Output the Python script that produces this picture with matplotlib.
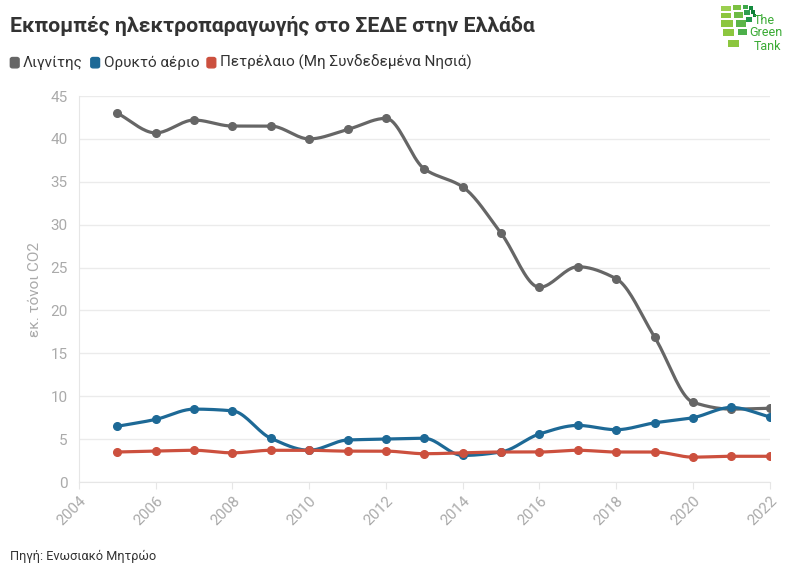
import numpy as np
import matplotlib.pyplot as plt
from matplotlib.patches import FancyBboxPatch, Rectangle

plt.rcParams['font.family'] = ['Roboto', 'DejaVu Sans']

years = list(range(2005, 2023))
lignite = [43.0, 40.7, 42.2, 41.5, 41.5, 40.0, 41.1, 42.4, 36.5, 34.4,
           29.0, 22.7, 25.1, 23.7, 16.9, 9.3, 8.5, 8.6]
gas = [6.5, 7.3, 8.5, 8.3, 5.1, 3.7, 4.9, 5.0, 5.1, 3.1,
       3.5, 5.6, 6.6, 6.1, 6.9, 7.5, 8.7, 7.6]
oil = [3.5, 3.6, 3.7, 3.4, 3.7, 3.7, 3.6, 3.6, 3.3, 3.4,
       3.5, 3.5, 3.7, 3.5, 3.5, 2.9, 3.0, 3.0]

names = ['Λιγνίτης', 'Ορυκτό αέριο', 'Πετρέλαιο (Μη Συνδεδεμένα Νησιά)']
colors = ['#666666', '#1d6996', '#cc503e']
xticks = list(range(2004, 2023, 2))
yticks = list(range(0, 50, 5))


def monotone(x, y, n=20):
    # monotone cubic (Fritsch-Carlson) only for drawing the smooth line
    x = np.asarray(x, float)
    y = np.asarray(y, float)
    h = np.diff(x)
    d = np.diff(y) / h
    m = np.zeros_like(y)
    m[0], m[-1] = d[0], d[-1]
    for i in range(1, len(y) - 1):
        if d[i - 1] * d[i] > 0:
            m[i] = 3 * (h[i - 1] + h[i]) / ((2 * h[i] + h[i - 1]) / d[i - 1] + (h[i] + 2 * h[i - 1]) / d[i])
    xs, ys = [], []
    for i in range(len(h)):
        t = np.linspace(0, 1, n, endpoint=False)
        h00 = 2 * t**3 - 3 * t**2 + 1
        h10 = t**3 - 2 * t**2 + t
        h01 = -2 * t**3 + 3 * t**2
        h11 = t**3 - t**2
        xs.append(x[i] + t * h[i])
        ys.append(h00 * y[i] + h10 * h[i] * m[i] + h01 * y[i + 1] + h11 * h[i] * m[i + 1])
    xs.append([x[-1]])
    ys.append([y[-1]])
    return np.concatenate(xs), np.concatenate(ys)


fig = plt.figure(figsize=(7.96, 5.75), dpi=100)
ax = fig.add_axes([0.0992, 0.1617, 0.8678, 0.6713])

for vals, c in zip([lignite, gas, oil], colors):
    sx, sy = monotone(years, vals)
    ax.plot(sx, sy, color=c, lw=2.3, solid_capstyle='round', zorder=3)
    ax.plot(years, vals, 'o', color=c, ms=5.5, zorder=4)

ax.set_xlim(2004, 2022)
ax.set_ylim(0, 45)
ax.set_xticks(xticks)
ax.set_yticks(yticks)
ax.grid(axis='y', color='#ebebeb', lw=1)
ax.set_axisbelow(True)
for s in ['top', 'right']:
    ax.spines[s].set_visible(False)
for s in ['left', 'bottom']:
    ax.spines[s].set_color('#e6e6e6')
ax.tick_params(axis='y', length=0, labelsize=11, colors='#aaaaaa', pad=8)
ax.tick_params(axis='x', length=5, color='#e6e6e6', labelsize=11, labelcolor='#aaaaaa')
for lab in ax.get_xticklabels():
    lab.set_rotation(45)
    lab.set_ha('right')
    lab.set_rotation_mode('anchor')
ax.set_ylabel('εκ. τόνοι CO2', color='#aaaaaa', fontsize=11, labelpad=6)

fig.text(0.013, 0.955, 'Εκπομπές ηλεκτροπαραγωγής στο ΣΕΔΕ στην Ελλάδα',
         fontsize=15.3, fontweight='bold', color='#333333', va='center')

# legend row
lx = 0.013
for name, c in zip(names, colors):
    fig.patches.append(FancyBboxPatch((lx, 0.882), 0.011, 0.018, boxstyle='round,pad=0,rounding_size=0.003',
                                      transform=fig.transFigure, color=c))
    t = fig.text(lx + 0.016, 0.891, name, fontsize=11, color='#333333', va='center')
    fig.canvas.draw()
    bb = t.get_window_extent().transformed(fig.transFigure.inverted())
    lx = bb.x1 + 0.01

fig.text(0.013, 0.033, 'Πηγή: Ενωσιακό Μητρώο', fontsize=9.2, color='#333333', va='center')

# logo, drawn in pixel coords of the top-right corner
lax = fig.add_axes([700 / 796, 1 - 70 / 575, 96 / 796, 70 / 575])
lax.set_xlim(700, 796)
lax.set_ylim(70, 0)
lax.axis('off')
tiles = [
    (721, 6, 10, 5, '#9bcf4f'), (721, 13, 10, 5, '#8cc63f'), (721, 20, 12, 7, '#8cc63f'),
    (723, 29, 11, 7, '#8cc63f'), (728, 40, 11, 7, '#8cc63f'),
    (733, 5, 8, 5, '#7cc142'), (734, 12, 9, 6, '#6dbb45'), (736, 20, 10, 7, '#5cb548'),
    (738, 29, 9, 6, '#4caf4a'),
    (743, 5, 5, 4, '#3ea84a'), (744, 10, 6, 5, '#2e9e4f'), (746, 17, 6, 5, '#22964a'),
    (749, 6, 4, 4, '#138a3e'), (751, 10, 4, 4, '#0f7f38'), (753, 14, 3, 3, '#0f7f38'),
]
for x, y, w, h, c in tiles:
    lax.add_patch(Rectangle((x, y), w, h, color=c, lw=0))
lax.text(754, 20, 'The', fontsize=9, color='#3aaa35', va='center')
lax.text(749, 33, 'Green', fontsize=9, color='#3aaa35', va='center')
lax.text(754, 46, 'Tank', fontsize=9, color='#3aaa35', va='center')

fig.savefig('out.png', dpi=100, facecolor='white')
